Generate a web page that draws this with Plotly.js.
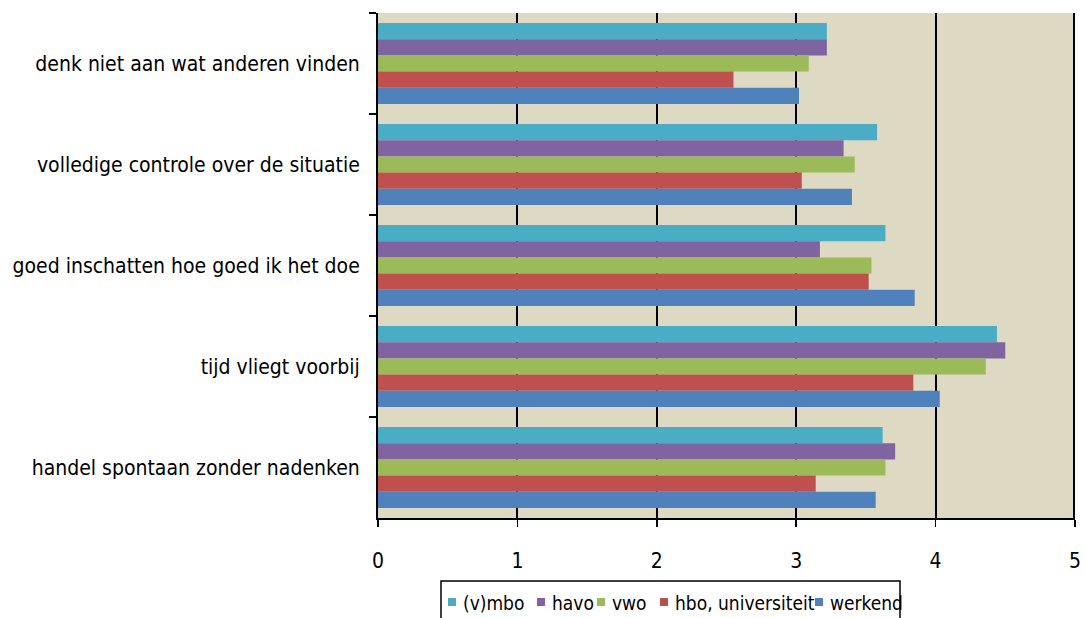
<!DOCTYPE html>
<html>
<head>
<meta charset="utf-8">
<script src="https://cdn.plot.ly/plotly-3.0.1.min.js"></script>
<style>
  html, body { margin: 0; padding: 0; background: #ffffff; }
  #chart { width: 1086px; height: 618px; }
</style>
</head>
<body>
<div id="chart"></div>
<script>
// Categories (top to bottom)
const categories = [
  "denk niet aan wat anderen vinden",
  "volledige controle over de situatie",
  "goed inschatten hoe goed ik het doe",
  "tijd vliegt voorbij",
  "handel spontaan zonder nadenken"
];

// Series names
const seriesNames = ["(v)mbo", "havo", "vwo", "hbo, universiteit", "werkend"];

// Series values (same order as categories)
const vmbo       = [3.22, 3.58, 3.64, 4.44, 3.62];
const havo       = [3.22, 3.34, 3.17, 4.50, 3.71];
const vwo        = [3.09, 3.42, 3.54, 4.36, 3.64];
const hbo        = [2.55, 3.04, 3.52, 3.84, 3.14];
const werkend    = [3.02, 3.40, 3.85, 4.03, 3.57];

const seriesValues = [vmbo, havo, vwo, hbo, werkend];
const seriesColors = ["#4BACC6", "#8064A2", "#9BBB59", "#C0504D", "#4F81BD"];

const xTickVals = [0, 1, 2, 3, 4, 5];

const FONT = "'DejaVu Sans Condensed', 'DejaVu Sans', sans-serif";

// Plot area geometry (pixels)
const W = 1086, H = 618;
const M = { l: 378, r: 11, t: 13, b: 100 };
const plotW = W - M.l - M.r, plotH = H - M.t - M.b;
const px2x = (px) => (px - M.l) / plotW;
const py2y = (py) => (H - M.b - py) / plotH;

const traces = seriesNames.map((name, i) => ({
  type: "bar",
  orientation: "h",
  name: name,
  y: categories,
  x: seriesValues[i],
  marker: { color: seriesColors[i], line: { width: 0 } },
  hoverinfo: "x+name",
  showlegend: false
}));

// Manual legend (Excel-style compact legend box)
const legendBox = { x0: 441, x1: 900, y0: 581, y1: 625 };
const legendItemX = [448, 537, 597, 660, 815]; // square left edges (px)
const legendCenterY = 603;
const sq = 8;

const shapes = [
  // right border of the plot area at the axis maximum
  {
    type: "line", xref: "paper", yref: "paper",
    x0: px2x(1074), x1: px2x(1074), y0: 0, y1: 1,
    line: { color: "#000000", width: 2 }, layer: "above"
  },
  {
    type: "rect", xref: "paper", yref: "paper",
    x0: px2x(legendBox.x0), x1: px2x(legendBox.x1),
    y0: py2y(legendBox.y1), y1: py2y(legendBox.y0),
    line: { color: "#000000", width: 1.5 }, fillcolor: "#ffffff", layer: "above"
  }
];
const annotations = [];
seriesNames.forEach((name, i) => {
  const sx = legendItemX[i];
  shapes.push({
    type: "rect", xref: "paper", yref: "paper",
    x0: px2x(sx), x1: px2x(sx + sq),
    y0: py2y(legendCenterY + sq / 2 - 1), y1: py2y(legendCenterY - sq / 2 - 1),
    line: { width: 0 }, fillcolor: seriesColors[i], layer: "above"
  });
  annotations.push({
    xref: "paper", yref: "paper",
    x: px2x(sx + sq + 5), y: py2y(legendCenterY),
    xanchor: "left", yanchor: "middle",
    text: name, showarrow: false,
    font: { family: FONT, size: 19, color: "#000000" }
  });
});

const layout = {
  width: W,
  height: H,
  margin: { l: M.l, r: M.r, t: M.t, b: M.b, pad: 0, autoexpand: false },
  paper_bgcolor: "#ffffff",
  plot_bgcolor: "#DDD9C3",
  font: { family: FONT, size: 21, color: "#000000" },
  barmode: "group",
  bargap: 0.2,
  bargroupgap: 0,
  showlegend: false,
  shapes: shapes,
  annotations: annotations,
  xaxis: {
    range: [0, 5],
    tickvals: xTickVals,
    ticktext: xTickVals.map(String),
    showgrid: true,
    gridcolor: "#000000",
    gridwidth: 2,
    zeroline: false,
    showline: true,
    linecolor: "#000000",
    linewidth: 2,
    ticks: "outside",
    ticklen: 7,
    tickwidth: 1.5,
    tickcolor: "#000000",
    ticklabelstandoff: 16,
    tickfont: { family: FONT, size: 21, color: "#000000" },
    fixedrange: true
  },
  yaxis: {
    type: "category",
    autorange: "reversed",
    showgrid: false,
    zeroline: false,
    showline: true,
    linecolor: "#000000",
    linewidth: 2,
    ticks: "outside",
    tickson: "boundaries",
    ticklen: 7,
    tickwidth: 1.5,
    tickcolor: "#000000",
    ticklabelstandoff: 12,
    tickfont: { family: FONT, size: 21, color: "#000000" },
    fixedrange: true
  }
};

Plotly.newPlot("chart", traces, layout, { displayModeBar: false, staticPlot: true });
</script>
</body>
</html>
